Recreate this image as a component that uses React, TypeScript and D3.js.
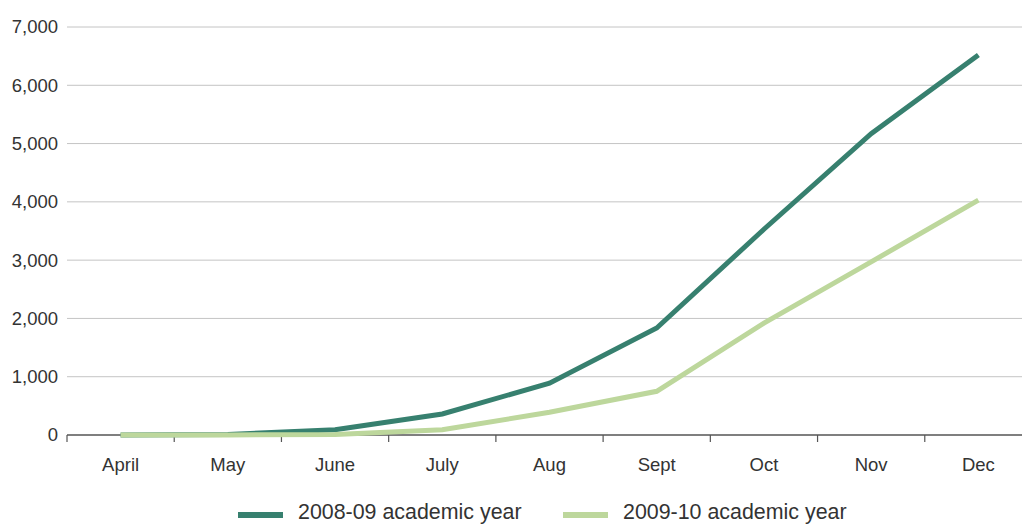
import React from "react";
import * as d3 from "d3";

const months = ["April", "May", "June", "July", "Aug", "Sept", "Oct", "Nov", "Dec"];
const series0809 = [0, 10, 90, 360, 890, 1835, 3530, 5170, 6520];
const series0910 = [0, 0, 10, 90, 390, 750, 1920, 2970, 4030];
const yTicks = [0, 1000, 2000, 3000, 4000, 5000, 6000, 7000];
const seriesNames = ["2008-09 academic year", "2009-10 academic year"];
const seriesColors = ["#37806f", "#bdd79c"];

export default function App() {
  const W = 1022, H = 524;
  const left = 67, right = 1032, top = 27, bottom = 435;
  const x = d3.scaleBand<string>().domain(months).range([left, right]);
  const y = d3.scaleLinear().domain([0, 7000]).range([bottom, top]);
  const line = d3
    .line<number>()
    .x((_, i) => (x(months[i]) as number) + x.bandwidth() / 2)
    .y((d) => y(d));
  const font = "'Liberation Sans', Arial, Helvetica, sans-serif";
  const all = [series0809, series0910];
  return (
    <svg
      width={W}
      height={H}
      style={{ position: "absolute", left: 0, top: 0, background: "#fff" }}
      fontFamily={font}
    >
      {yTicks.map((t) => (
        <g key={t}>
          {t > 0 && (
            <line x1={left} x2={W} y1={y(t)} y2={y(t)} stroke="#c4c4c4" strokeWidth={1} />
          )}
          <text x={58} y={y(t)} dy="0.35em" textAnchor="end" fontSize={18.5} fill="#333">
            {d3.format(",")(t)}
          </text>
        </g>
      ))}
      <line x1={left} x2={W} y1={bottom} y2={bottom} stroke="#555" strokeWidth={1.3} />
      {months.map((m) => (
        <g key={m}>
          <line
            x1={x(m) as number}
            x2={x(m) as number}
            y1={bottom}
            y2={bottom + 7}
            stroke="#555"
            strokeWidth={1.2}
          />
          <text
            x={(x(m) as number) + x.bandwidth() / 2}
            y={471}
            textAnchor="middle"
            fontSize={18.5}
            fill="#333"
          >
            {m}
          </text>
        </g>
      ))}
      {all.map((s, k) => (
        <path
          key={k}
          d={line(s) as string}
          fill="none"
          stroke={seriesColors[k]}
          strokeWidth={5}
          strokeLinejoin="miter"
        />
      ))}
      {[0, 1].map((k) => {
        const x0 = k === 0 ? 238 : 563;
        return (
          <g key={k}>
            <line x1={x0} x2={x0 + 45} y1={515} y2={515} stroke={seriesColors[k]} strokeWidth={6} />
            <text x={x0 + 60} y={519} fontSize={21.4} fill="#333">
              {seriesNames[k]}
            </text>
          </g>
        );
      })}
    </svg>
  );
}
